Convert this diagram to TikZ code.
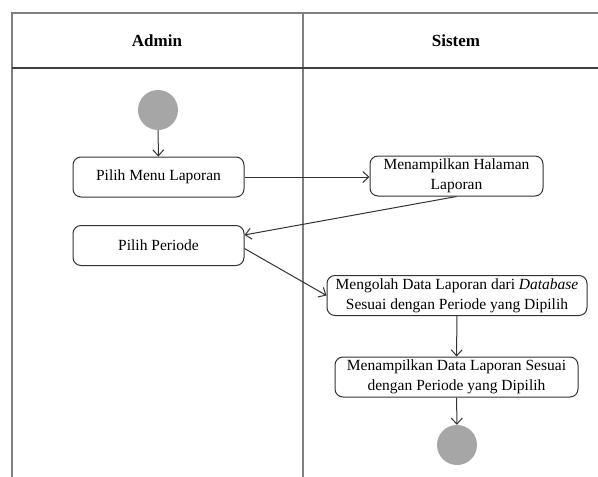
\documentclass[tikz,border=0pt]{standalone}
\usepackage{fontspec}
\setmainfont{Liberation Serif}
\usetikzlibrary{arrows.meta}
\begin{document}
\begin{tikzpicture}[x=1pt,y=-1pt]
        \useasboundingbox (0,0) rectangle (598,477);
        % swimlanes
        \begin{scope}[draw=black!50,line width=1.4pt]
            \draw (598,13) -- (12,13) -- (12,477);
            \draw (303,13) -- (303,477);
            \draw[black!75] (12,68) -- (598,68);
        \end{scope}
        \begin{scope}[every node/.style={font=\fontsize{17}{20}\selectfont\bfseries}]
            \node (admin) at (157,41) {Admin};
            \node (sistem) at (456,41) {Sistem};
        \end{scope}
        \begin{scope}[every node/.style={circle,fill=black!35,minimum size=40pt,inner sep=0pt}]
            \node (start) at (158,110) {};
            \node (end) at (457,445) {};
        \end{scope}
        \begin{scope}[every node/.style={draw=black!80,line width=1pt,rounded corners=8pt,
                align=center,inner sep=0pt,minimum height=40pt,
                font=\fontsize{15.5}{20}\selectfont}]
            \node[minimum width=171pt] (menu) at (158.5,177) {Pilih Menu Laporan};
            \node[minimum width=171pt] (periode) at (158.5,245.5) {Pilih Periode};
            \node[minimum width=173pt] (halaman) at (456.5,176) {Menampilkan Halaman\\Laporan};
            \node[minimum width=260pt] (olah) at (457,295.5) {Mengolah Data Laporan dari \textit{Database}\\Sesuai dengan Periode yang Dipilih};
            \node[minimum width=243pt] (tampil) at (456.5,377) {Menampilkan Data Laporan Sesuai\\dengan Periode yang Dipilih};
        \end{scope}
        \begin{scope}[draw=black!80,line width=1pt,-{Straight Barb[length=6pt,width=11pt]}]
            \draw (start) -- (menu);
            \draw (menu.east) -- (halaman.west |- menu.east);
            \draw (halaman.south) -- (periode.7);
            \draw (periode.-2) -- (olah.west);
            \draw (olah) -- (tampil);
            \draw (tampil) -- (end);
        \end{scope}
    \end{tikzpicture}
\end{document}
